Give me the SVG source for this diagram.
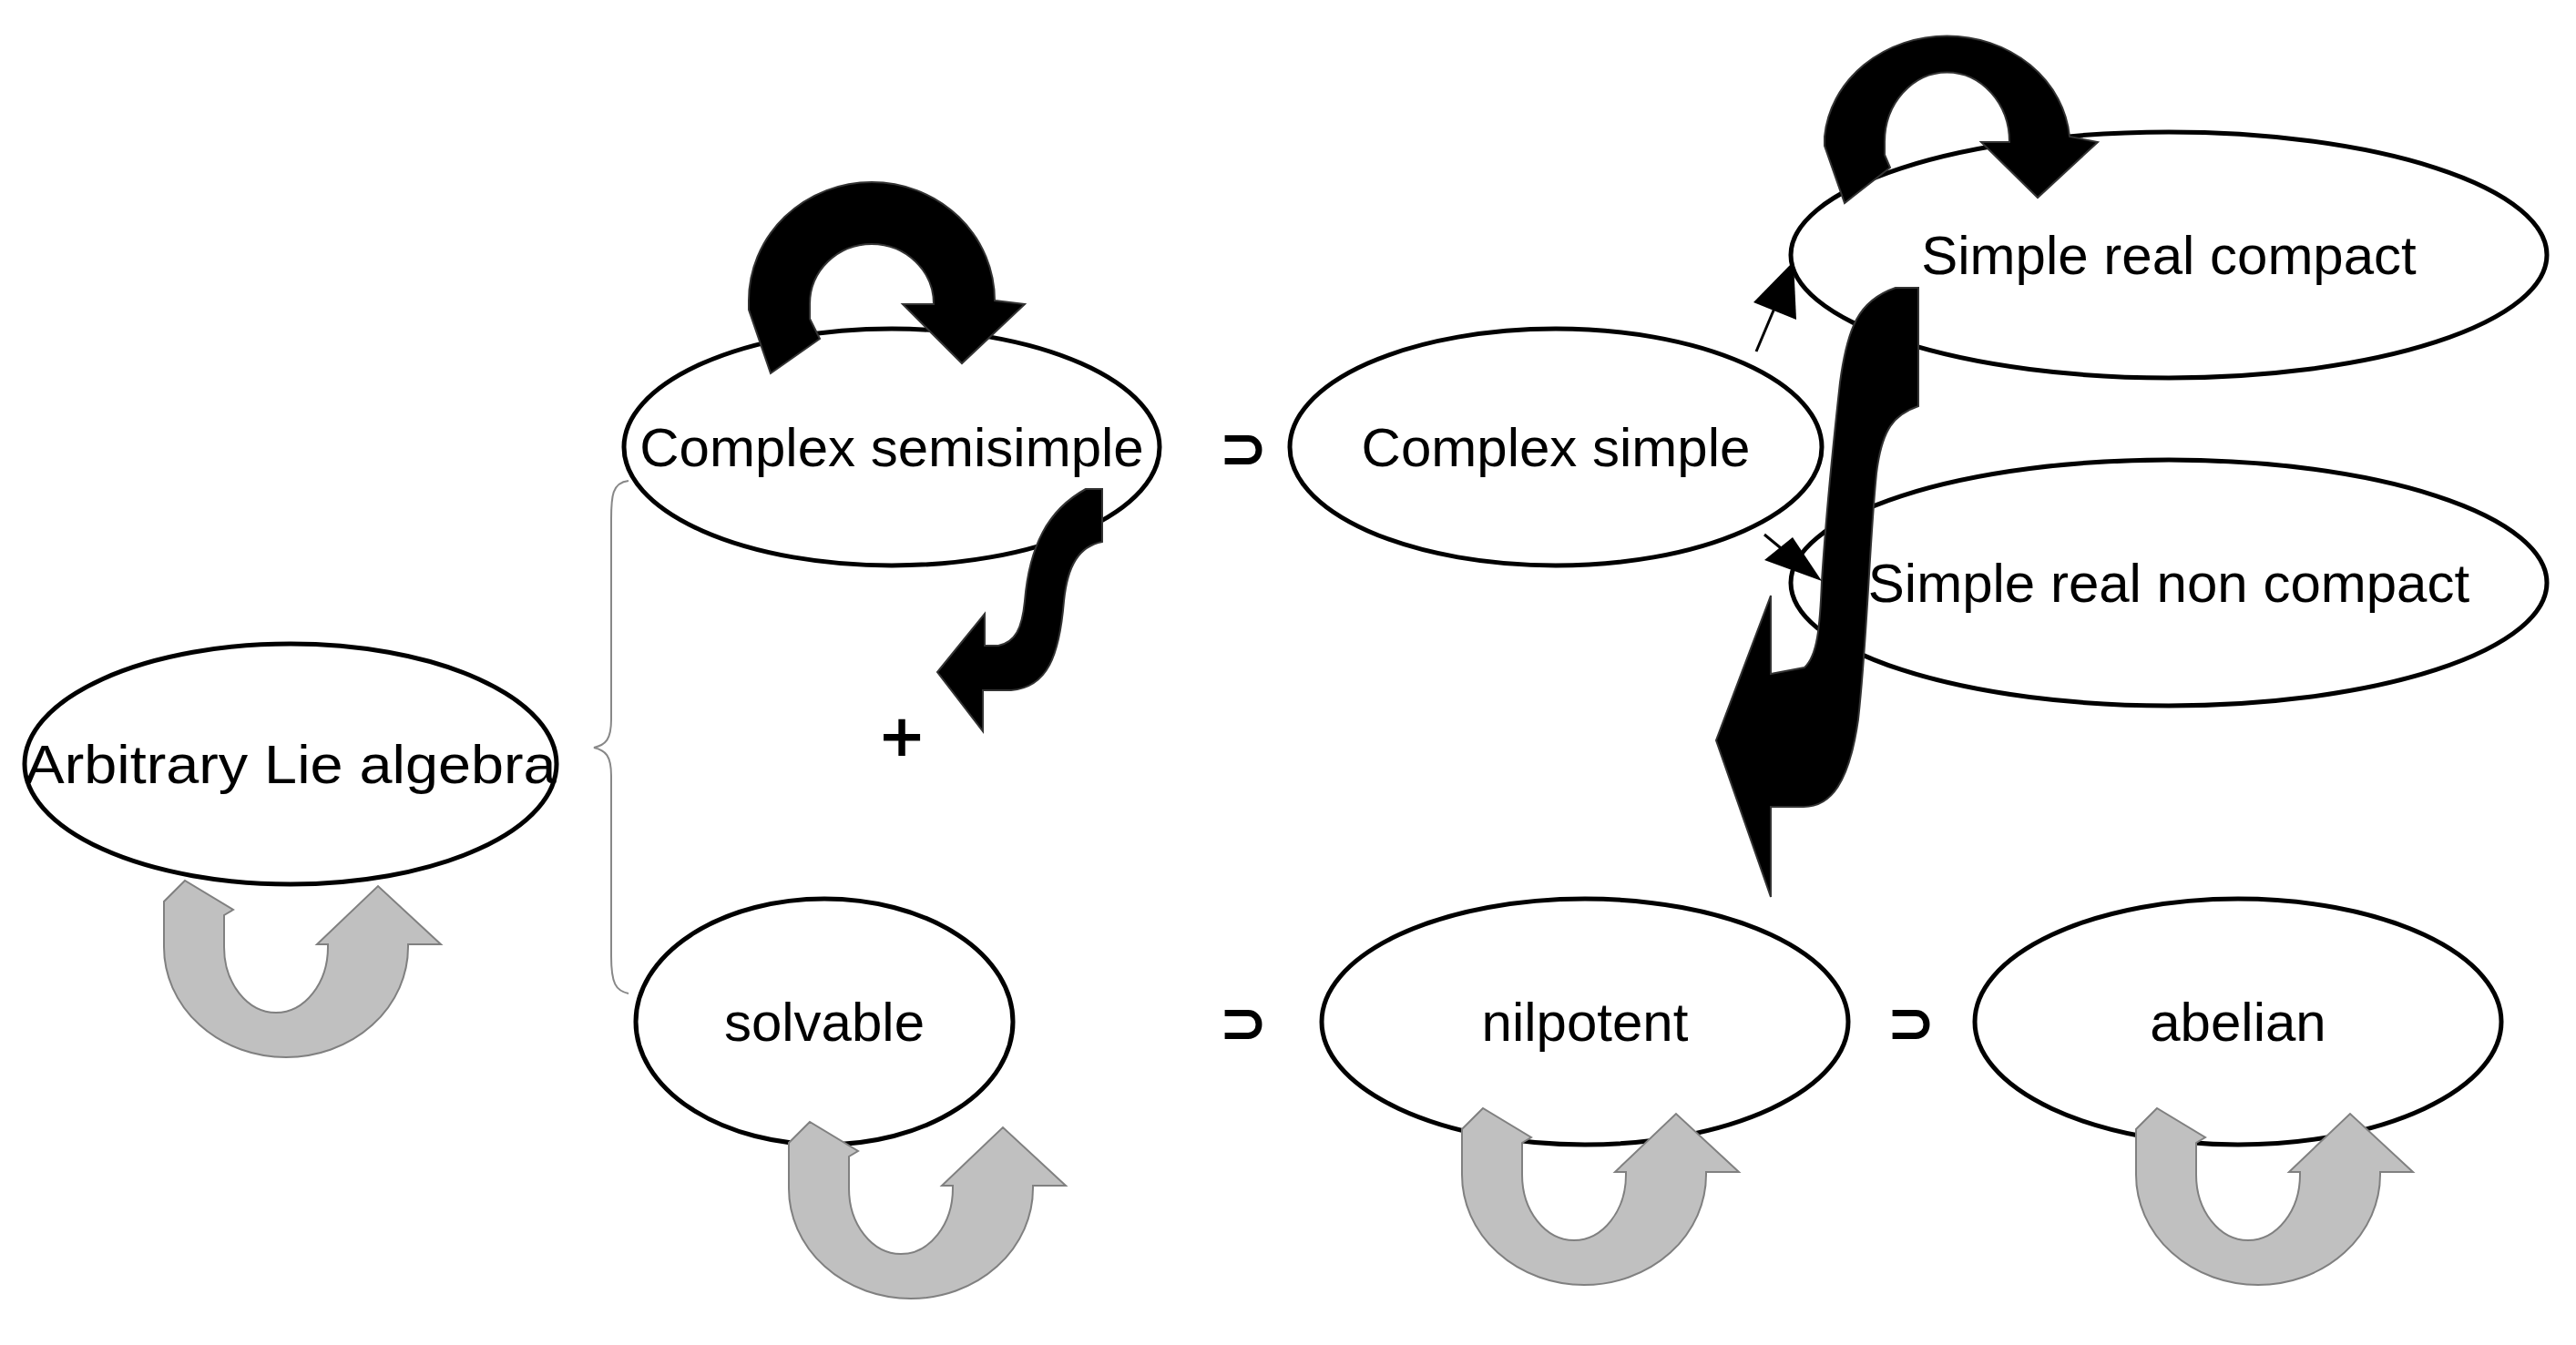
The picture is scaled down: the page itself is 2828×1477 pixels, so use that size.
<svg xmlns="http://www.w3.org/2000/svg" width="2828" height="1477" viewBox="0 0 2828 1477">
<style>
.n{fill:#fff;stroke:#000;stroke-width:5}
.t{font-family:"Liberation Sans",Arial,sans-serif;font-size:60px;fill:#000;text-anchor:middle}
.s{font-family:"DejaVu Sans",sans-serif;font-size:64px;font-weight:bold;fill:#000;text-anchor:middle}
.g{fill:#c0c0c0;stroke:#808080;stroke-width:2}
.b{fill:#000;stroke:#333;stroke-width:2}
.th{stroke:#000;stroke-width:3;fill:none}
</style>
<defs>
<path id="u" d="M -107,-73 L -130,-50 L -130,0 A 134 121 0 0 0 138,0 L 138,-3 L 174,-3 L 105,-67 L 38,-3 L 50,-3 L 50,0 A 57 72 0 0 1 -64,0 L -64,-35 L -54,-41 Z"/>
</defs>
<rect width="2828" height="1477" fill="#fff"/>
<g id="node-arbitrary"><ellipse class="n" cx="319" cy="839" rx="292" ry="132"/><text class="t" x="319" y="860" textLength="583" lengthAdjust="spacingAndGlyphs">Arbitrary Lie algebra</text></g>
<g id="node-semisimple"><ellipse class="n" cx="979" cy="491" rx="294" ry="130"/><text class="t" x="979" y="512">Complex semisimple</text></g>
<g id="node-simple"><ellipse class="n" cx="1708" cy="491" rx="292" ry="130"/><text class="t" x="1708" y="512">Complex simple</text></g>
<g id="node-compact"><ellipse class="n" cx="2381" cy="280" rx="415" ry="135"/><text class="t" x="2381" y="301">Simple real compact</text></g>
<g id="node-noncompact"><ellipse class="n" cx="2381" cy="640" rx="415" ry="135"/><text class="t" x="2381" y="661">Simple real non compact</text></g>
<g id="node-solvable"><ellipse class="n" cx="905" cy="1122" rx="207" ry="135"/><text class="t" x="905" y="1143">solvable</text></g>
<g id="node-nilpotent"><ellipse class="n" cx="1740" cy="1122" rx="289" ry="135"/><text class="t" x="1740" y="1143">nilpotent</text></g>
<g id="node-abelian"><ellipse class="n" cx="2457" cy="1122" rx="289" ry="135"/><text class="t" x="2457" y="1143">abelian</text></g>
<g id="symbols">
<text class="s" x="1365" y="514">⊃</text>
<text class="s" x="1365" y="1145">⊃</text>
<text class="s" x="2098" y="1145">⊃</text>
<text class="s" x="990" y="830">+</text>
<path d="M 690,528 C 672,530 671,545 671,570 L 671,790 C 671,812 665,818 652,821 C 665,824 671,830 671,852 L 671,1050 C 671,1080 676,1088 690,1091" fill="none" stroke="#888" stroke-width="2"/>
</g>
<g id="connectors">
<use href="#u" class="g" transform="translate(310,1040)"/>
<use href="#u" class="g" transform="translate(996,1305)"/>
<use href="#u" class="g" transform="translate(1735,1290)"/>
<use href="#u" class="g" transform="translate(2475,1290)"/>
<path class="b" d="M 846,410 L 822,340 L 822,330 A 135 130 0 0 1 1092,330 L 1125,334 L 1056,399 L 991,334 L 1025,334 A 68 66 0 0 0 889,334 L 889,350 L 900,372 Z"/>
<path class="b" d="M 2025,223 L 2003,160 L 2003,150 A 135 121 0 0 1 2272,150 L 2303,156 L 2237,217 L 2175,156 L 2206,156 A 68 76 0 0 0 2069,156 L 2069,170 L 2075,184 Z"/>
<path class="b" d="M 1192,537 L 1210,537 L 1210,595 C 1185,600 1172,620 1168,660 C 1163,720 1150,755 1110,758 L 1079,758 L 1079,803 L 1029,738 L 1081,674 L 1081,709 L 1096,709 C 1115,705 1122,690 1125,660 C 1130,600 1150,560 1192,537 Z"/>
<path class="b" d="M 2081,316 L 2106,316 L 2106,446 C 2080,455 2066,470 2060,520 C 2052,600 2050,700 2040,790 C 2030,860 2010,886 1980,886 L 1944,886 L 1944,985 L 1884,813 L 1944,654 L 1944,740 L 1981,733 C 1995,720 1998,690 2000,638 C 2005,560 2010,510 2020,420 C 2028,360 2040,330 2081,316 Z"/>
<line class="th" x1="1928" y1="386" x2="1955" y2="322"/>
<path d="M1969,287 L1925,332 L1972,351 Z"/>
<line class="th" x1="1937" y1="587" x2="1960" y2="606"/>
<path d="M2000,638 L1937,615 L1968,590 Z"/>
</g>
</svg>
